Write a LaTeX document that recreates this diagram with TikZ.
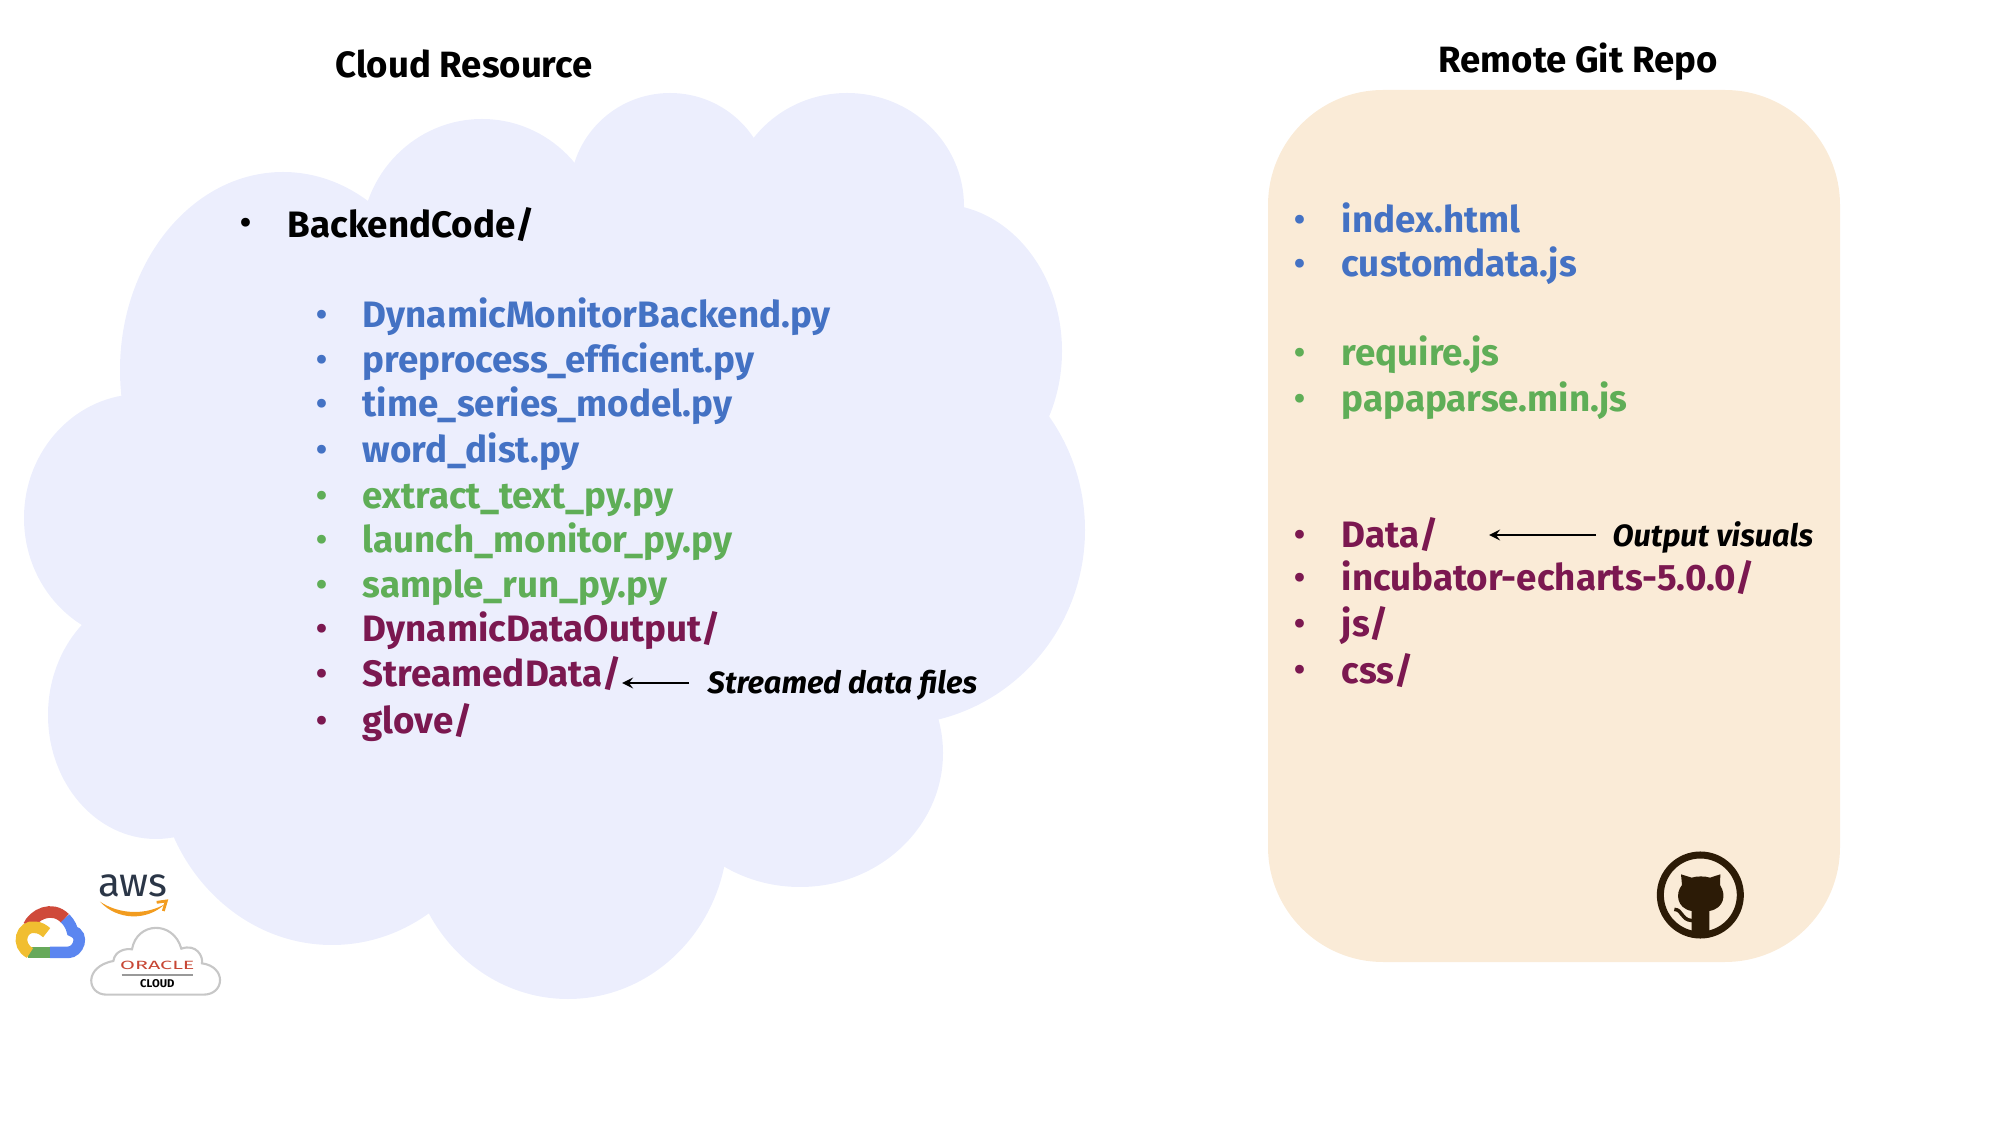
\documentclass[tikz,border=0pt]{standalone}
\usepackage{fontspec}
\setmainfont{Fira Sans}
\usetikzlibrary{positioning}
\definecolor{cloudfill}{HTML}{ECEEFD}
\definecolor{repofill}{HTML}{FAEBD7}
\definecolor{pyblue}{HTML}{4472C4}
\definecolor{pygreen}{HTML}{5FAE57}
\definecolor{dirred}{HTML}{7B1850}
\definecolor{catdark}{HTML}{2C1B06}
\definecolor{awsink}{HTML}{2B3647}
\definecolor{awsorange}{HTML}{F29C1F}
\definecolor{oraclered}{HTML}{C74634}
\definecolor{googlered}{HTML}{CF4A3A}
\definecolor{googleblue}{HTML}{5B86F0}
\definecolor{googlegreen}{HTML}{67A95B}
\definecolor{googleyellow}{HTML}{F1BE30}
\tikzset{
	lobe/.style={fill=cloudfill, draw=none},
	titletext/.style={font=\fontsize{10.4}{12}\selectfont\bfseries, anchor=center, inner sep=0pt},
	filename/.style={font=\fontsize{10.45}{12}\selectfont\bfseries, anchor=base west, inner sep=0pt},
	dot/.style={font=\fontsize{9}{10}\selectfont\bfseries, anchor=center, inner sep=0pt},
	notetext/.style={font=\fontsize{8.75}{12}\selectfont\bfseries\itshape, anchor=base west, inner sep=0pt},
	pointer/.style={-stealth, line width=0.4pt},
}
\begin{document}
\begin{tikzpicture}[x=0.01cm, y=-0.01cm]
	\useasboundingbox (0,0) rectangle (2000,1125);

	% cloud
	\fill[lobe] (530,530) ellipse [x radius=420, y radius=330];
	\fill[lobe] (283,370) ellipse [x radius=163, y radius=198];
	\fill[lobe] (482,242) ellipse [x radius=121, y radius=123];
	\fill[lobe] (670,192) ellipse [x radius=100, y radius=99];
	\fill[lobe] (847,206) ellipse [x radius=117, y radius=113];
	\fill[lobe] (938,351) ellipse [x radius=124, y radius=147];
	\fill[lobe] (893,530) ellipse [x radius=192, y radius=195];
	\fill[lobe] (800,753) ellipse [x radius=143, y radius=134];
	\fill[lobe] (568,830) ellipse [x radius=160, y radius=169];
	\fill[lobe] (332,753) ellipse [x radius=176, y radius=192];
	\fill[lobe] (156,715) ellipse [x radius=108, y radius=124];
	\fill[lobe] (141,518) ellipse [x radius=117, y radius=124];

	% repo box
	\fill[repofill, rounded corners=1.15cm] (1268,90) rectangle (1840,962);

	\node[titletext] (cloudtitle) at (464,64) {Cloud Resource};
	\node[titletext] (repotitle) at (1578,62) {Remote Git Repo};

	\node[dot] (backenddot) at (246,226) {\textbullet};
	\node[filename] (backend) at (287,238) {BackendCode/};

	\foreach \ypos/\itemname/\itemcolor/\itemtext in {
		328/monitor/pyblue/{DynamicMonitorBackend.py},
		373/preproc/pyblue/{preprocess\_efficient.py},
		417/timeseries/pyblue/{time\_series\_model.py},
		463/worddist/pyblue/{word\_dist.py},
		509/extract/pygreen/{extract\_text\_py.py},
		553/launch/pygreen/{launch\_monitor\_py.py},
		598/samplerun/pygreen/{sample\_run\_py.py},
		642/dynoutput/dirred/{DynamicDataOutput/},
		687/streamed/dirred/{StreamedData/},
		734/glove/dirred/{glove/}}{
		\node[dot, text=\itemcolor] (\itemname dot) at (322,\ypos-10) {\textbullet};
		\node[filename, text=\itemcolor] (\itemname) at (362,\ypos) {\itemtext};
	}

	\foreach \ypos/\itemname/\itemcolor/\itemtext in {
		233/indexfile/pyblue/{index.html},
		277/customfile/pyblue/{customdata.js},
		366/requirefile/pygreen/{require.js},
		412/papafile/pygreen/{papaparse.min.js},
		548/datadir/dirred/{Data/},
		591/echartsdir/dirred/{incubator-echarts-5.0.0/},
		637/jsdir/dirred/{js/},
		683/cssdir/dirred/{css/}}{
		\node[dot, text=\itemcolor] (\itemname dot) at (1300,\ypos-10) {\textbullet};
		\node[filename, text=\itemcolor] (\itemname) at (1341,\ypos) {\itemtext};
	}

	\node[notetext] (streamnote) at (707,693) {Streamed data files};
	\node[notetext] (outputnote) at (1612,547) {Output visuals};
	\coordinate (streamtail) at (689,683);
	\coordinate (streamhead) at (622,683);
	\coordinate (outputtail) at (1596,535);
	\coordinate (outputhead) at (1489,535);
	\draw[pointer] (streamtail) -- (streamhead);
	\draw[pointer] (outputtail) -- (outputhead);

	% github mark
	\begin{scope}[shift={(1620,830)}, scale=1/3]
		\draw[catdark, line width=2pt] (241,195) circle (120);
		\fill[catdark] (183,133) -- (215,143) .. controls (230,138) and (255,138) .. (270,143) -- (301,133)
			-- (300,165) .. controls (320,195) and (312,235) .. (268,243) -- (268,322) -- (215,322) -- (215,243)
			.. controls (170,235) and (165,190) .. (186,165) -- cycle;
		\draw[catdark, line width=1pt] (163,238) .. controls (190,240) and (180,268) .. (216,272);
	\end{scope}

	% google logo
	\begin{scope}[shift={(0,850)}, scale=1/3]
		\draw[line width=3.3pt, color=googlered] (86,228) .. controls (100,195) and (155,165) .. (195,205);
		\draw[line width=3.3pt, color=googleblue] (195,205) .. controls (212,222) and (215,235) .. (217,243)
			.. controls (255,255) and (235,307) .. (205,307) -- (150,307);
		\draw[line width=3.3pt, color=googlegreen] (150,307) -- (85,307);
		\draw[line width=3.3pt, color=googleyellow] (90,309) .. controls (45,285) and (65,225) .. (105,232) .. controls (120,232) and (130,240) .. (140,248);
	\end{scope}

	% aws logo
	\node[font=\fontsize{11.5}{14}\selectfont, text=awsink, inner sep=0pt] (awstext) at (133,886) {aws};
	\begin{scope}[shift={(0,850)}, scale=1/3]
		\fill[awsorange] (300,155) .. controls (360,195) and (440,195) .. (495,162) .. controls (440,215) and (350,210) .. (300,155) -- cycle;
		\draw[awsorange, line width=0.8pt] (470,157) -- (499,153) -- (490,183);
	\end{scope}

	% oracle logo
	\begin{scope}[shift={(0,850)}, scale=1/3]
		\draw[fill=white, draw=black!22, line width=0.6pt] (320,434)
			.. controls (260,434) and (250,350) .. (340,333)
			.. controls (345,300) and (380,295) .. (396,298)
			.. controls (410,215) and (520,210) .. (544,296)
			.. controls (590,280) and (610,320) .. (606,340)
			.. controls (680,350) and (675,434) .. (610,434) -- cycle;
		\node[font=\fontsize{3.4}{4}\selectfont, text=oraclered, xscale=1.8, inner sep=0pt] (oracletext) at (472,347) {ORACLE};
		\draw[black!40, line width=0.5pt] (365,375) -- (580,375);
		\node[font=\fontsize{3.2}{4}\selectfont\bfseries, text=black, inner sep=0pt] (cloudtext) at (472,402) {CLOUD};
	\end{scope}
\end{tikzpicture}
\end{document}
